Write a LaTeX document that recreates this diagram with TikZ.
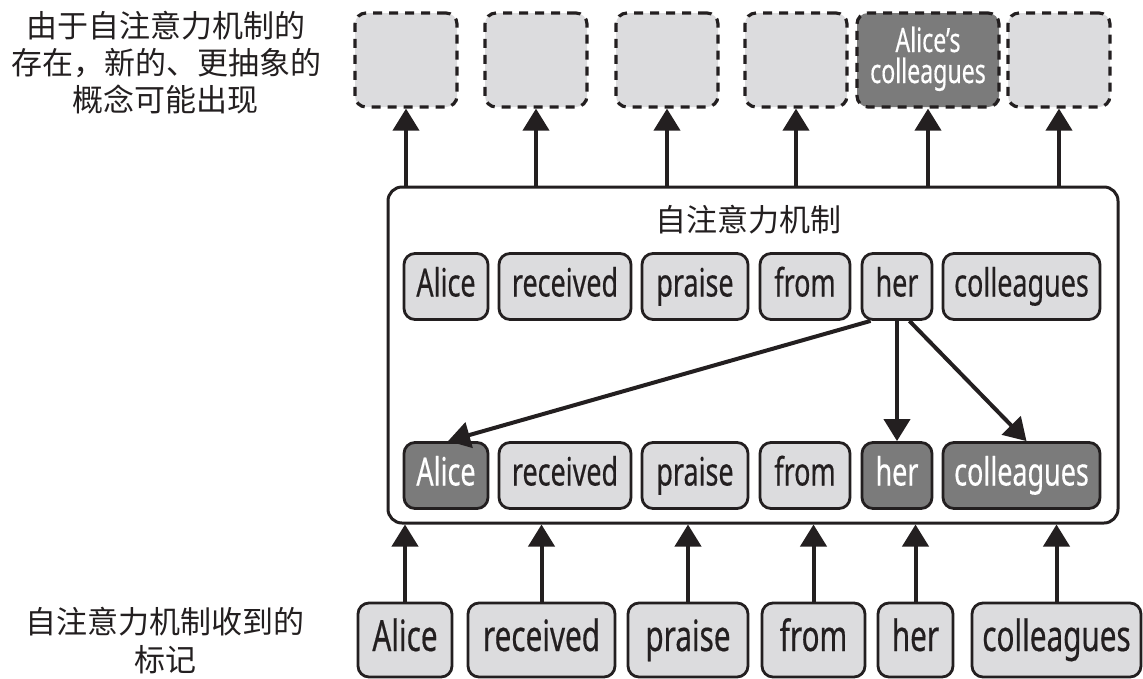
\documentclass[tikz,border=0pt]{standalone}
\usepackage{fontspec}
\newfontfamily\tokfont{Noto Sans}[FakeStretch=0.69,FakeBold=0.4]
\newfontfamily\cjk{Noto Sans CJK SC}
\usetikzlibrary{arrows.meta}
\definecolor{ink}{HTML}{231F20}
\definecolor{lightg}{HTML}{DCDCDE}
\definecolor{darkg}{HTML}{7B7B7B}
\begin{document}
\begin{tikzpicture}[x=1pt,y=-1pt,
 tok/.style={draw=ink, line width=2.8pt, fill=lightg, rounded corners=11pt, inner sep=0pt, text=ink},
 hi/.style={fill=darkg, text=white},
 intok/.style={tok, minimum height=74pt, text height=31pt, text depth=9pt, font=\tokfont\fontsize{43}{46}\selectfont},
 rowtok/.style={tok, minimum height=66pt, text height=28pt, text depth=8pt, font=\tokfont\fontsize{39}{42}\selectfont},
 outtok/.style={tok, dash pattern=on 9pt off 7pt, line width=3.2pt, minimum height=94pt, minimum width=102pt, align=center, text height=54pt, text depth=8pt, font=\tokfont\fontsize{33.5}{31}\selectfont},
 arr/.style={draw=ink, line width=4pt, -{Triangle[length=22pt,width=26pt]}},
 lbl/.style={text=ink, align=center, inner sep=0pt}
]
\useasboundingbox (0,0) rectangle (1143,678);

% left labels
\node[lbl, font=\cjk\fontsize{31}{37}\selectfont] (outlbl) at (166,63) {由于自注意力机制的\\存在，新的、更抽象的\\概念可能出现};
\node[lbl, font=\cjk\fontsize{31}{38}\selectfont] (inlbl) at (165,641) {自注意力机制收到的\\标记};

% output (dashed) boxes
\node[outtok] (o1) at (406,60) {};
\node[outtok] (o2) at (536,60) {};
\node[outtok] (o3) at (667,60) {};
\node[outtok] (o4) at (796,60) {};
\node[outtok, hi, minimum width=142pt] (o5) at (928,60) {Alice’s\\colleagues};
\node[outtok] (o6) at (1059,60) {};

% self-attention box
\node[draw=ink, line width=3pt, rounded corners=14pt, minimum width=730pt, minimum height=336pt, inner sep=0pt] (attn) at (753,355) {};
\node[lbl, font=\cjk\fontsize{31}{37}\selectfont] (title) at (748,220) {自注意力机制};

% upper row inside
\node[rowtok, minimum width=84pt] (a1) at (446,286.5) {Alice};
\node[rowtok, minimum width=132pt] (r1) at (565,286.5) {received};
\node[rowtok, minimum width=106pt] (p1) at (695,286.5) {praise};
\node[rowtok, minimum width=90pt] (f1) at (805,286.5) {from};
\node[rowtok, minimum width=70pt] (h1) at (897,286.5) {her};
\node[rowtok, minimum width=157pt] (c1) at (1021.5,286.5) {colleagues};

% lower row inside
\node[rowtok, hi, minimum width=84pt] (a2) at (446,475.5) {Alice};
\node[rowtok, minimum width=132pt] (r2) at (565,475.5) {received};
\node[rowtok, minimum width=106pt] (p2) at (695,475.5) {praise};
\node[rowtok, minimum width=90pt] (f2) at (805,475.5) {from};
\node[rowtok, hi, minimum width=70pt] (h2) at (897,475.5) {her};
\node[rowtok, hi, minimum width=157pt] (c2) at (1021.5,475.5) {colleagues};

% input tokens
\node[intok, minimum width=94pt] (i1) at (405,640) {Alice};
\node[intok, minimum width=147pt] (i2) at (541.5,640) {received};
\node[intok, minimum width=120pt] (i3) at (688,640) {praise};
\node[intok, minimum width=103pt] (i4) at (813.5,640) {from};
\node[intok, minimum width=75pt] (i5) at (915.5,640) {her};
\node[intok, minimum width=169pt] (i6) at (1056.5,640) {colleagues};

% arrows: inputs -> attention box
\foreach \n in {i1,i2,i3,i4,i5,i6}
  \draw[arr] (\n.north) -- (\n.north |- attn.south);
% arrows: attention box -> outputs
\foreach \n in {o1,o2,o3,o4,o5,o6}
  \draw[arr] (\n.south |- attn.north) -- (\n.south);

% attention arrows from "her"
\draw[arr] ([xshift=10pt]h1.south west) -- ([xshift=2pt]a2.north);
\draw[arr] (h1.south) -- (h2.north);
\draw[arr] ([xshift=-24pt]h1.south east) -- ([xshift=5pt]c2.north);
\end{tikzpicture}
\end{document}
